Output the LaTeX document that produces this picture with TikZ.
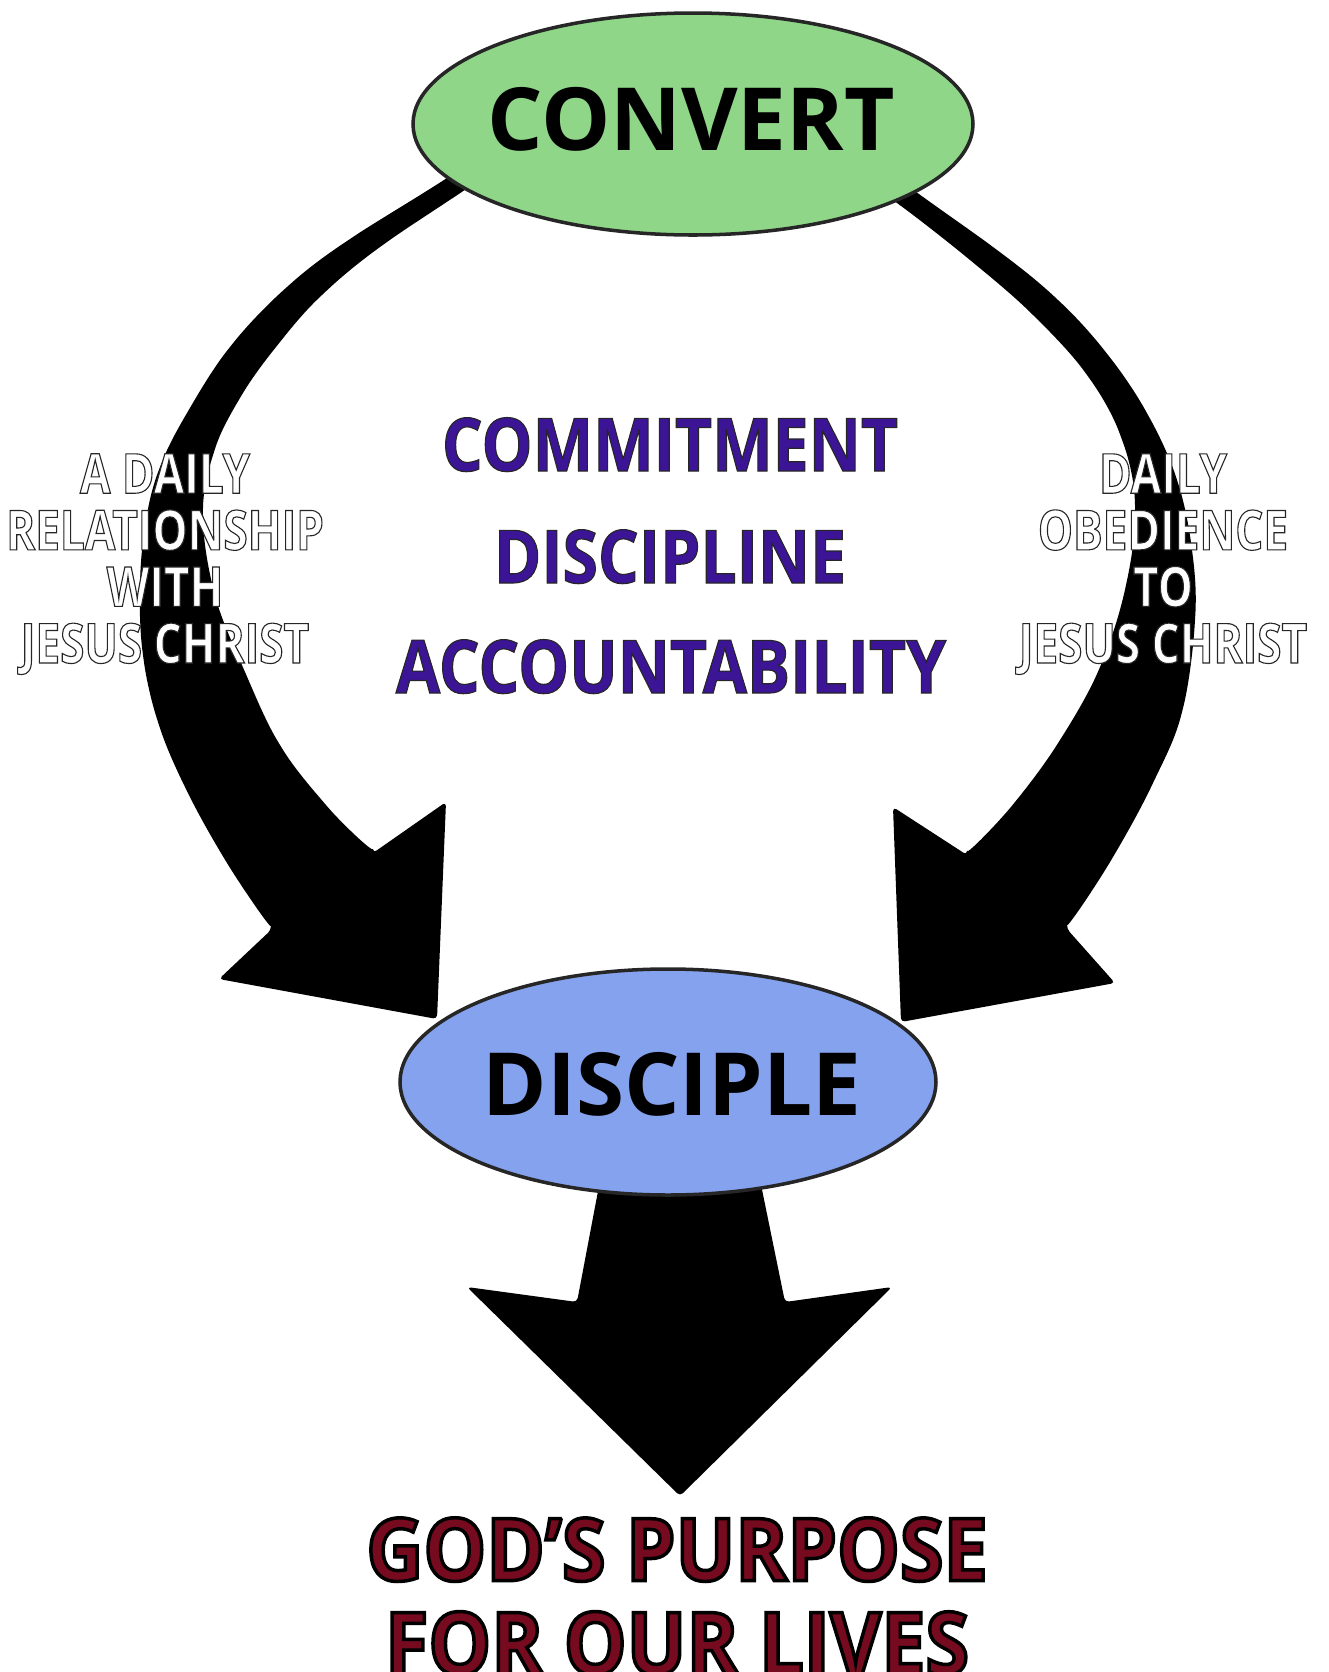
\documentclass[tikz,border=0pt]{standalone}
\usepackage{fontspec}
\setmainfont{Open Sans}
\newfontfamily\virtuefont{Open Sans}[FakeStretch=0.87,FakeBold=1.5]
\newfontfamily\asidefont{Open Sans}[FakeStretch=0.8,FakeBold=2]
\newfontfamily\goalfont{Open Sans}[FakeStretch=0.91,FakeBold=4]
\newcommand\rim[1]{\special{pdf:literal direct #1}}
\usepackage{tikz}
\usetikzlibrary{shapes.geometric,positioning}

\definecolor{convertgreen}{RGB}{143,214,136}
\definecolor{discipleblue}{RGB}{133,162,238}
\definecolor{virtuepurple}{RGB}{60,20,150}
\definecolor{purposered}{RGB}{118,10,30}

\begin{document}
\begin{tikzpicture}[x=0.1mm,y=-0.1mm,
		bubble/.style={ellipse,draw=black!85,line width=1pt,inner sep=0pt},
		word/.style={anchor=base,inner sep=0pt,font=\fontsize{24.8}{28}\selectfont\bfseries},
		virtue/.style={anchor=base,inner sep=0pt,text=virtuepurple,font=\virtuefont\fontsize{21}{25}\selectfont\bfseries},
		aside/.style={anchor=north,inner sep=0pt,align=center,text=white,font=\asidefont\fontsize{15.7}{16.1}\selectfont\bfseries},
		goal/.style={anchor=north,inner sep=0pt,align=center,text=purposered,font=\goalfont\fontsize{24.7}{26.7}\selectfont\bfseries},
		band/.style={fill=black,rounded corners=0.4mm}]

	\useasboundingbox (0,0) rectangle (1328,1672);

	\coordinate (lefttip) at (437,1019);
	\coordinate (righttip) at (901,1022);
	\coordinate (downtip) at (680,1496);

	% left sweep
	\fill[band] plot[smooth,tension=0.6] coordinates {(460,172) (353,237) (287,287) (230,347) (187,413) (160,467) (146,520) (140,585) (143,655) (158,722) (185,787) (224,858) (271,930)}
		-- (219,979) -- (lefttip) -- (446,802)
		-- plot[smooth,tension=0.6] coordinates {(373,853) (326,805) (280,745) (245,672) (215,595) (203,515) (214,452) (240,398) (276,347) (322,295) (387,242) (490,175)} -- cycle;

	% right sweep
	\fill[band] plot[smooth,tension=0.6] coordinates {(890,175) (993,247) (1058,300) (1108,355) (1148,415) (1177,480) (1192,550) (1195,620) (1182,712) (1153,783) (1113,857) (1067,929)}
		-- (1115,983) -- (righttip) -- (893,807)
		-- plot[smooth,tension=0.6] coordinates {(967,855) (1015,802) (1060,740) (1100,667) (1126,585) (1135,505) (1121,437) (1087,375) (1033,315) (970,260) (897,203) (850,172)} -- cycle;

	% down
	\fill[band] (602,1170) -- (577,1302) -- (467,1287) -- (downtip) -- (892,1287) -- (785,1302) -- (758,1170) -- cycle;

	\node[bubble,fill=convertgreen,minimum width=56mm,minimum height=22.2mm] (convert) at (693,124) {};
	\node[bubble,fill=discipleblue,minimum width=53.6mm,minimum height=22.6mm] (disciple) at (668,1082) {};

	\node[word] (convertword) at (691,150) {CONVERT};
	\node[word] (discipleword) at (672,1115) {DISCIPLE};

	\node[virtue] (commitment) at (670,471) {\rim{0.15 G}COMMITMENT};
	\node[virtue] (discipline) at (670,583) {\rim{0.15 G}DISCIPLINE};
	\node[virtue] (accountability) at (671,693) {\rim{0.15 G}ACCOUNTABILITY};

	\node[aside] (relationship) at (165,453) {\rim{0.15 G}A DAILY\\\rim{0.15 G}RELATIONSHIP\\\rim{0.15 G}WITH\\\rim{0.15 G}JESUS CHRIST};
	\node[aside] (obedience) at (1163,453) {\rim{0.15 G}DAILY\\\rim{0.15 G}OBEDIENCE\\\rim{0.15 G}TO\\\rim{0.15 G}JESUS CHRIST};

	\node[goal] (purpose) at (677,1517) {\rim{0 G}GOD’S PURPOSE\\\rim{0 G}FOR OUR LIVES};
\end{tikzpicture}
\end{document}
